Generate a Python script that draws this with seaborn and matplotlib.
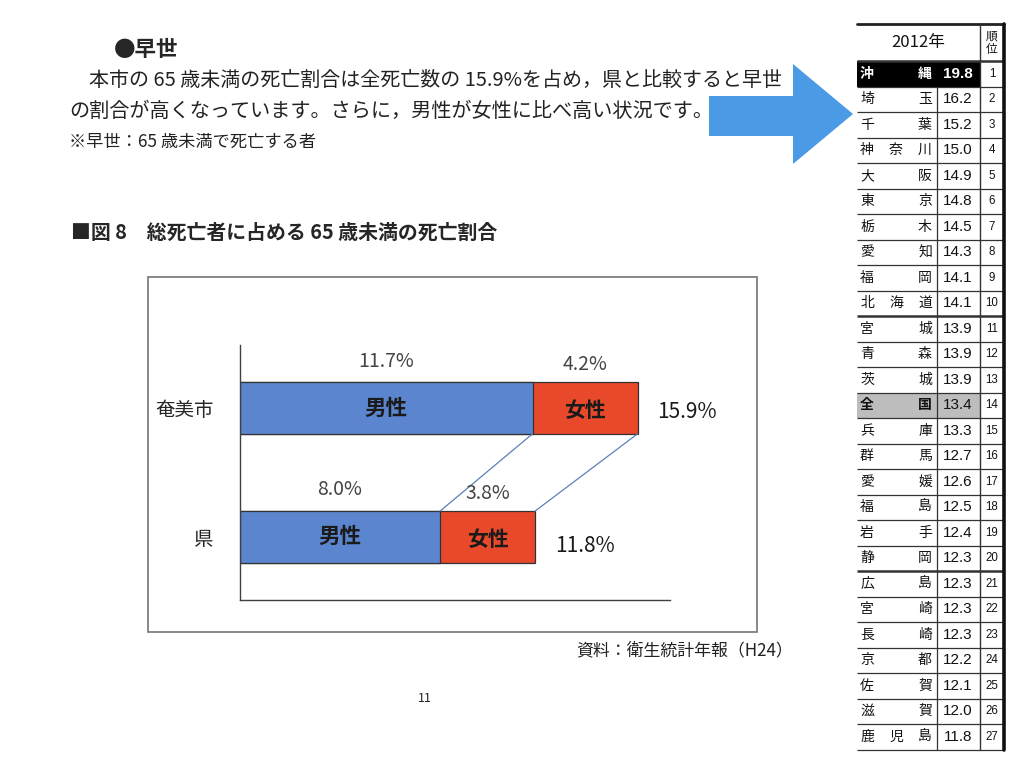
import numpy as np
import pandas as pd
import matplotlib
matplotlib.use("Agg")
import matplotlib.pyplot as plt
import seaborn as sns
from matplotlib.patches import Rectangle, Polygon

# ---------------- data ----------------
categories = ["奄美市", "県"]
male = [11.7, 8.0]
female = [4.2, 3.8]
total = [15.9, 11.8]
male_label = "男性"
female_label = "女性"

pref_names = ["沖縄", "埼玉", "千葉", "神奈川", "大阪", "東京", "栃木", "愛知", "福岡", "北海道",
              "宮城", "青森", "茨城", "全国", "兵庫", "群馬", "愛媛", "福島", "岩手", "静岡",
              "広島", "宮崎", "長崎", "京都", "佐賀", "滋賀", "鹿児島"]
pref_values = [19.8, 16.2, 15.2, 15.0, 14.9, 14.8, 14.5, 14.3, 14.1, 14.1,
               13.9, 13.9, 13.9, 13.4, 13.3, 12.7, 12.6, 12.5, 12.4, 12.3,
               12.3, 12.3, 12.3, 12.2, 12.1, 12.0, 11.8]
pref_ranks = [1, 2, 3, 4, 5, 6, 7, 8, 9, 10, 11, 12, 13, 14, 15, 16, 17, 18, 19, 20,
              21, 22, 23, 24, 25, 26, 27]
table_year = "2012年"
table_rank_header = "順\n位"

heading = "●早世"
para1 = "本市の 65 歳未満の死亡割合は全死亡数の 15.9%を占め，県と比較すると早世"
para2 = "の割合が高くなっています。さらに，男性が女性に比べ高い状況です。"
note = "※早世：65 歳未満で死亡する者"
fig_title = "■図 8　総死亡者に占める 65 歳未満の死亡割合"
source = "資料：衛生統計年報（H24）"
page_no = "11"

BLUE = "#5b86cf"
RED = "#e8492a"
ARROW = "#4b9ae6"

# ---------------- setup ----------------
sns.set_style("white")
plt.rcParams['font.family'] = ['Noto Sans CJK JP', 'DejaVu Sans']

fig = plt.figure(figsize=(10.24, 7.68), dpi=100)
fig.patch.set_facecolor("white")

page = fig.add_axes([0, 0, 1, 1], zorder=0)
page.set_xlim(0, 1024)
page.set_ylim(768, 0)
page.axis("off")

# texts on page
page.text(114, 50, heading, fontsize=15.5, fontweight="bold", va="center", ha="left")
page.text(89, 80, para1, fontsize=14.4, va="center", ha="left", color="#222222")
page.text(69, 111, para2, fontsize=14.5, va="center", ha="left", color="#222222")
page.text(69, 142, note, fontsize=12.4, va="center", ha="left", color="#222222")
page.text(71, 232, fig_title, fontsize=14.3, fontweight="bold", va="center", ha="left")
page.text(793, 650, source, fontsize=12.2, va="center", ha="right", color="#222222")
page.text(425, 698, page_no, fontsize=9, va="center", ha="center", color="#222222")

# chart frame
page.add_patch(Rectangle((148, 277), 609, 355, fill=False, edgecolor="#7f7f7f", lw=1.3))

# big arrow
page.add_patch(Polygon([(709, 96), (793, 96), (793, 64), (853, 114), (793, 164), (793, 136), (709, 136)],
                       closed=True, facecolor=ARROW, edgecolor="none"))

# ---------------- table ----------------
tx0, tx1, tx2, tx3 = 857, 937, 980, 1004
ty_top, ty_head = 24, 61
rh = 25.5
n = len(pref_names)
ty_bot = ty_head + rh * n

for i, (name, val, rk) in enumerate(zip(pref_names, pref_values, pref_ranks)):
    top = ty_head + rh * i
    cy = top + rh / 2
    tc = "#111111"
    weight = "normal"
    if i == 0:
        page.add_patch(Rectangle((tx0, top), tx2 - tx0, rh, facecolor="black", edgecolor="none"))
        tc = "white"
        weight = "bold"
    elif name == "全国":
        page.add_patch(Rectangle((tx0, top), tx2 - tx0, rh, facecolor="#bdbdbd", edgecolor="none"))
        weight = "bold"
    chars = list(name)
    if len(chars) == 2:
        xs = [867, 925]
    else:
        xs = [867, 896, 925]
    for c, x in zip(chars, xs):
        page.text(x, cy, c, fontsize=10, ha="center", va="center", color=tc, fontweight=weight)
    page.text(958, cy, f"{val:.1f}", fontsize=11, ha="center", va="center", color=tc,
              fontweight="bold" if i == 0 else "normal", family=["Liberation Sans", "DejaVu Sans"])
    page.text(992, cy, str(rk), fontsize=8.3, ha="center", va="center", color="#111111",
              family=["Liberation Sans", "DejaVu Sans"])

# table lines
for i in range(n + 1):
    y = ty_head + rh * i
    lw = 1.8 if i in (0, 10, 20) else 0.9
    page.plot([tx0, tx3], [y, y], color="#333333", lw=lw, solid_capstyle="butt")
page.plot([tx0, tx3], [ty_top, ty_top], color="#222222", lw=2.0)
page.plot([tx1, tx1], [ty_head + rh, ty_bot], color="#333333", lw=0.9)
page.plot([tx2, tx2], [ty_top, ty_bot], color="#333333", lw=1.0)
page.plot([tx3, tx3], [ty_top, ty_bot], color="#111111", lw=2.6)
page.text((tx0 + tx2) / 2, (ty_top + ty_head) / 2, table_year, fontsize=12, ha="center", va="center",
          color="#111111")
page.text((tx2 + tx3) / 2, (ty_top + ty_head) / 2, table_rank_header, fontsize=8.5, ha="center",
          va="center", color="#111111", linespacing=1.0)

# ---------------- bar chart ----------------
ax = fig.add_axes([240 / 1024, 1 - 600 / 768, 430 / 1024, 255 / 768], zorder=2)
ax.patch.set_alpha(0)

df = pd.DataFrame({"cat": categories, "male": male, "female": female, "total": total})
bw = 0.4
sns.barplot(data=df, x="total", y="cat", color=RED, saturation=1, width=bw,
            edgecolor="#333333", linewidth=0.9, ax=ax)
sns.barplot(data=df, x="male", y="cat", color=BLUE, saturation=1, width=bw,
            edgecolor="#333333", linewidth=0.9, ax=ax)

ax.set_xlim(0, 17.2)
ax.set_ylim(1.49, -0.49)
ax.set_xticks([])
ax.set_xlabel("")
ax.set_ylabel("")
ax.tick_params(axis="y", length=0, pad=19, labelsize=14)
for s in ("top", "right"):
    ax.spines[s].set_visible(False)
for s in ("left", "bottom"):
    ax.spines[s].set_color("#404040")
    ax.spines[s].set_linewidth(1.0)

# connector lines
ax.plot([male[0], male[1]], [0 + bw / 2, 1 - bw / 2], color="#5a80b8", lw=0.9, zorder=1)
ax.plot([total[0], total[1]], [0 + bw / 2, 1 - bw / 2], color="#5a80b8", lw=0.9, zorder=1)

for i in range(len(categories)):
    m, f, t = male[i], female[i], total[i]
    ax.text(m / 2, i, male_label, fontsize=15.5, fontweight="bold", ha="center", va="center",
            color="#1a1a1a")
    ax.text(m + f / 2, i + 0.02, female_label, fontsize=15, fontweight="bold", ha="center",
            va="center", color="#1a1a1a")
    ax.text(m / 2, i - bw / 2 - 0.165, f"{m:.1f}%", fontsize=14, ha="center", va="center",
            color="#454545")
    ax.text(m + f / 2, i - bw / 2 - 0.14, f"{f:.1f}%", fontsize=14, ha="center", va="center",
            color="#454545")
    ax.text(t + 0.8, i + 0.03 + 0.04 * i, f"{t:.1f}%", fontsize=15, ha="left", va="center",
            color="#1a1a1a")

fig.savefig("out.png", dpi=100, facecolor="white")
